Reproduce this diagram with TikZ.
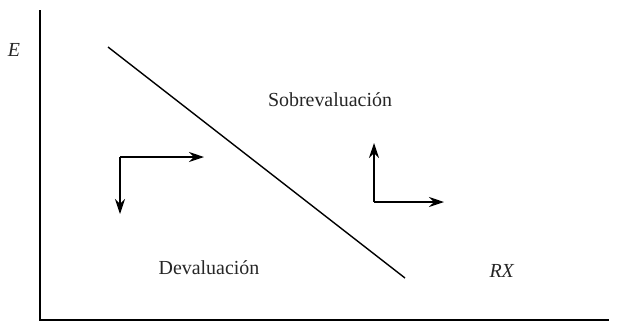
\documentclass[tikz,border=0pt]{standalone}
\usepackage{fontspec}
\setmainfont{Liberation Serif}
\usetikzlibrary{arrows.meta}
\begin{document}
\begin{tikzpicture}[x=1bp,y=-1bp,
  axis/.style={line width=1.6bp},
  curve/.style={line width=1.4bp},
  dirarrow/.style={line width=1.2bp,-{Stealth[length=15bp,width=10bp,inset=5bp]}},
  lbl/.style={font=\fontsize{20}{24}\selectfont, inner sep=0pt, text=black!85}]
\useasboundingbox (0,0) rectangle (624,323);
% axes
\coordinate (origin) at (40,320);
\coordinate (ytop) at (40,10);
\coordinate (xend) at (609,320);
\draw[axis] (ytop) -- (origin) -- (xend);
% line separating the two regions
\coordinate (lineA) at (108,47);
\coordinate (lineB) at (405,278);
\draw[curve] (lineA) -- (lineB);
% labels
\node[lbl] (E) at (14,50) {\textit{E}};
\node[lbl] (sobre) at (330,100) {Sobrevaluación};
\node[lbl] (deva) at (209,268) {Devaluación};
\node[lbl] (rx) at (502,271) {\textit{RX}};
% direction arrows, left region
\coordinate (cL) at (120,157);
\coordinate (cLr) at (204,157);
\coordinate (cLd) at (120,214);
\draw[dirarrow] (cL) -- (cLr);
\draw[dirarrow] (cL) -- (cLd);
% direction arrows, right region
\coordinate (cR) at (374,202);
\coordinate (cRu) at (374,143);
\coordinate (cRr) at (444,202);
\draw[dirarrow] (cR) -- (cRu);
\draw[dirarrow] (cR) -- (cRr);
\end{tikzpicture}
\end{document}
